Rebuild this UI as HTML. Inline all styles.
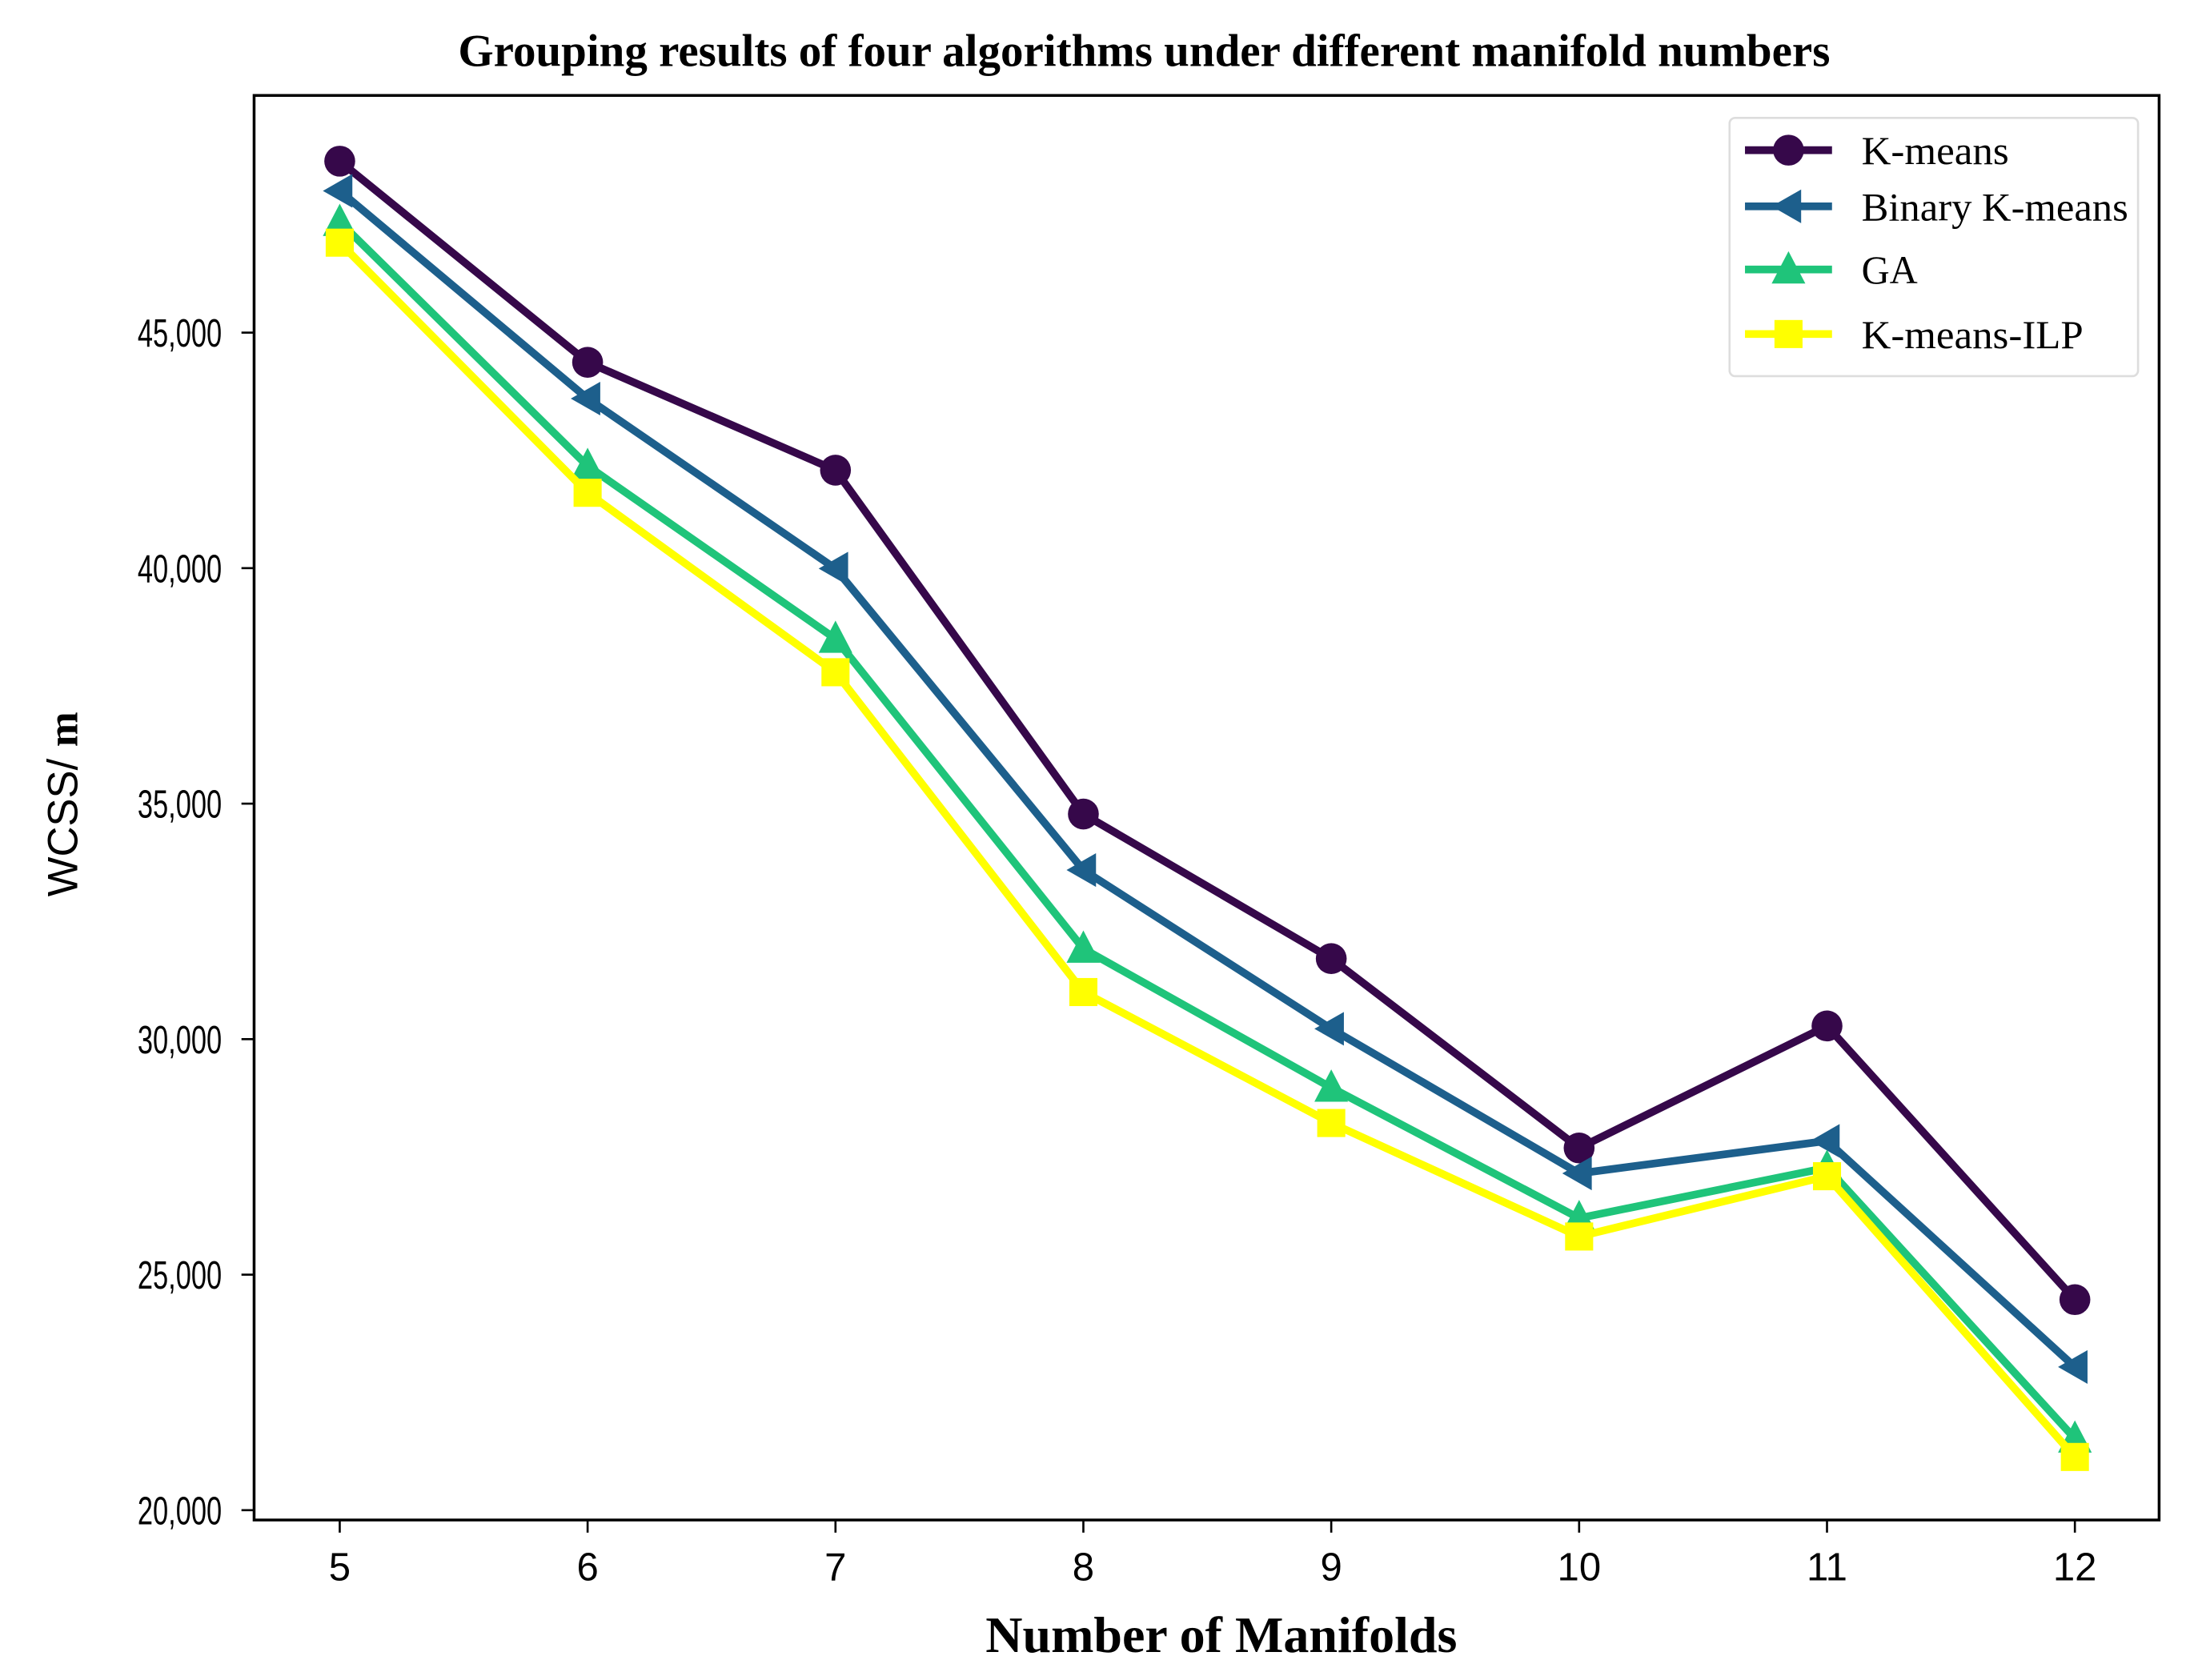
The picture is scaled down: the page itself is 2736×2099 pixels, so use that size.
<!DOCTYPE html>
<html><head><meta charset="utf-8"><style>html,body{margin:0;padding:0;background:#fff;}svg{display:block;}</style></head>
<body>
<svg id="chart" width="2736" height="2099" viewBox="0 0 1560 1197" preserveAspectRatio="none" xmlns="http://www.w3.org/2000/svg">
<rect x="0" y="0" width="1560" height="1197" fill="#fff"/>
<text x="815" y="47" text-anchor="middle" font-family="Liberation Serif, serif" font-weight="bold" font-size="32.5">Grouping results of four algorithms under different manifold numbers</text>
<g id="axes"></g>
<g id="series"></g>
<rect x="181" y="68" width="1357" height="1015" fill="none" stroke="#000" stroke-width="2"/>
<text x="870" y="1177" text-anchor="middle" font-family="Liberation Serif, serif" font-weight="bold" font-size="36.5">Number of Manifolds</text>
<text transform="translate(55,573) rotate(-90)" text-anchor="middle" font-family="Liberation Sans, sans-serif" font-size="30">WCSS/ <tspan font-family="Liberation Serif, serif" font-weight="bold">m</tspan></text>
<g id="legend"></g>
</svg>
<script>
const categories = [5, 6, 7, 8, 9, 10, 11, 12];
const kmeans = [48640, 44370, 42080, 34780, 31710, 27690, 30280, 24470];
const binaryKmeans = [48010, 43600, 39990, 33590, 30220, 27150, 27840, 23040];
const ga = [47350, 42170, 38500, 31920, 28970, 26200, 27270, 21520];
const kmeansIlp = [46910, 41600, 37790, 31000, 28220, 25810, 27090, 21130];
const yTicks = [20000, 25000, 30000, 35000, 40000, 45000];
const seriesNames = ["K-means", "Binary K-means", "GA", "K-means-ILP"];

const NS = "http://www.w3.org/2000/svg";
function xPos(v){ return 242 + (v - 5) * (1478 - 242) / 7; }
function yPos(v){ return 1076 - (v - 20000) * (1076 - 237) / 25000; }
function mk(tag, attrs, parent){ const e = document.createElementNS(NS, tag); for (const k in attrs) e.setAttribute(k, attrs[k]); parent.appendChild(e); return e; }

const axes = document.getElementById('axes');
yTicks.forEach(t => {
  const y = yPos(t);
  const tk = mk('line', {x1:172, x2:181, y1:y, y2:y, stroke:'#000', 'stroke-width':1.5}, axes);
  
  
  const lb = mk('text', {x:158, y:y+10, 'text-anchor':'end', 'font-family':'Liberation Sans, sans-serif', 'font-size':28, textLength:60, lengthAdjust:'spacingAndGlyphs'}, axes);
  lb.textContent = t.toLocaleString('en-US');
  
  
});
categories.forEach(c => {
  const x = xPos(c);
  const tk = mk('line', {x1:x, x2:x, y1:1083, y2:1092, stroke:'#000', 'stroke-width':1.5}, axes);
  
  
  const lb = mk('text', {x:x, y:1126, 'text-anchor':'middle', 'font-family':'Liberation Sans, sans-serif', 'font-size':28}, axes);
  lb.textContent = String(c);
  
  
});

const colors = ['#36084a', '#1d5f8c', '#1fc47a', '#ffff00'];
const markers = ['circle', 'tri-left', 'tri-up', 'square'];
function marker(kind, x, y, color, parent){
  let e;
  if (kind === 'circle') e = mk('circle', {cx:x, cy:y, r:11, fill:color}, parent);
  else if (kind === 'tri-left') e = mk('polygon', {points:`${x-12},${y} ${x+9},${y-12} ${x+9},${y+12}`, fill:color}, parent);
  else if (kind === 'tri-up') e = mk('polygon', {points:`${x},${y-13} ${x+12},${y+10} ${x-12},${y+10}`, fill:color}, parent);
  else e = mk('rect', {x:x-10, y:y-10, width:20, height:20, fill:color}, parent);
  return e;
}
const allSeries = [kmeans, binaryKmeans, ga, kmeansIlp];
const sg = document.getElementById('series');
allSeries.forEach((vals, i) => {
  const g = mk('g', {}, sg);
  
  
  const pts = vals.map((v, j) => xPos(categories[j]) + ',' + yPos(v)).join(' ');
  const pl = mk('polyline', {points:pts, fill:'none', stroke:colors[i], 'stroke-width':5.5, 'stroke-linejoin':'round'}, g);
  
  
  vals.forEach((v, j) => {
    const m = marker(markers[i], xPos(categories[j]), yPos(v), colors[i], g);
    
    
  });
});

const lg = document.getElementById('legend');
const box = mk('rect', {x:1232, y:84, width:291, height:184, rx:4, fill:'#fff', stroke:'#ddd', 'stroke-width':1.5}, lg);


const ly = [107, 147, 192, 238];
seriesNames.forEach((n, i) => {
  const g = mk('g', {}, lg);
  
  
  mk('line', {x1:1243, x2:1305, y1:ly[i], y2:ly[i], stroke:colors[i], 'stroke-width':5.5}, g);
  marker(markers[i], 1274, ly[i], colors[i], g);
  const t = mk('text', {x:1326, y:ly[i]+10, 'font-family':'Liberation Serif, serif', 'font-size':28.5, textLength: [105,190,40,158][i], lengthAdjust:'spacingAndGlyphs'}, g);
  t.textContent = n;
});
</script>
</body></html>
